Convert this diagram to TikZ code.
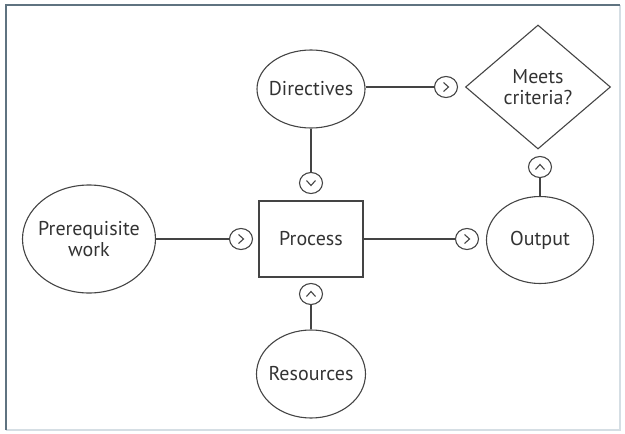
\documentclass[tikz,border=0pt]{standalone}
\usepackage{fontspec}
\setmainfont{PT Sans}
\usetikzlibrary{shapes.geometric}
\definecolor{ink}{HTML}{444444}
\definecolor{txt}{HTML}{333333}
\definecolor{frame}{HTML}{5F7380}
\definecolor{framelight}{HTML}{D5DEE4}
\tikzset{
  conn/.style={draw=ink, line width=1.1pt},
  lbl/.style={font=\fontsize{20}{21}\selectfont, text=txt},
  bigell/.style={ellipse, draw=ink, line width=1.1pt, inner sep=-20pt, align=center, lbl},
  smallell/.style={ellipse, draw=ink, line width=1.1pt, inner sep=0pt,
    minimum width=23pt, minimum height=21pt},
  chev/.style={draw=ink, line width=1.1pt},
}
\newcommand\chevR[1]{\draw[chev] ([shift={(-2.5,-4.5)}]#1.center) -- ([shift={(2.5,0)}]#1.center) -- ([shift={(-2.5,4.5)}]#1.center);}
\newcommand\chevD[1]{\draw[chev] ([shift={(-4.5,-2.5)}]#1.center) -- ([shift={(0,2.5)}]#1.center) -- ([shift={(4.5,-2.5)}]#1.center);}
\newcommand\chevU[1]{\draw[chev] ([shift={(-4.5,2.5)}]#1.center) -- ([shift={(0,-2.5)}]#1.center) -- ([shift={(4.5,2.5)}]#1.center);}
\begin{document}
\begin{tikzpicture}[x=1pt,y=-1pt]
\useasboundingbox (0,0) rectangle (625,434);
\draw[framelight, line width=1.3pt] (620,5) -- (620,430) -- (6,430);
\draw[frame, line width=1.5pt] (6,430) -- (6,5) -- (620,5);

\node[bigell, minimum width=108pt, minimum height=78pt] (dir) at (311,89) {Directives};
\node[bigell, minimum width=133pt, minimum height=108pt] (pre) at (89,239) {Prerequisite\\work};
\node[draw=ink, line width=1.1pt, minimum width=104pt, minimum height=76pt, inner sep=0pt, lbl] (proc) at (311,239) {Process};
\node[bigell, minimum width=107pt, minimum height=87pt] (out) at (540,240) {Output};
\node[bigell, minimum width=109pt, minimum height=88pt] (res) at (311,374) {Resources};
\node[diamond, draw=ink, line width=1.1pt, inner sep=-6pt, minimum width=145pt, minimum height=124pt,
      align=center, lbl] (meet) at (538,87) {Meets\\criteria?};

\node[smallell] (s1) at (446,87) {};
\node[smallell] (s2) at (311,183) {};
\node[smallell] (s3) at (241,239) {};
\node[smallell] (s4) at (467,239) {};
\node[smallell] (s5) at (311,294) {};
\node[smallell] (s6) at (540,167) {};

\chevR{s1} \chevD{s2} \chevR{s3} \chevR{s4} \chevU{s5} \chevU{s6}

\draw[conn] (dir.east |- s1) -- (s1);
\draw[conn] (dir) -- (s2);
\draw[conn] (pre.east |- s3) -- (s3);
\draw[conn] (proc) -- (s4);
\draw[conn] (res) -- (s5);
\draw[conn] (out) -- (s6);
\end{tikzpicture}
\end{document}
